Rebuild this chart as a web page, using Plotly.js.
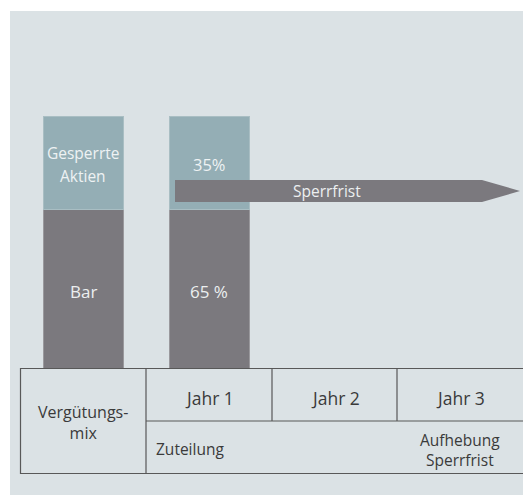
<!DOCTYPE html>
<html>
<head>
<meta charset="utf-8">
<script src="https://cdn.plot.ly/plotly-3.0.1.min.js"></script>
<style>html,body{margin:0;padding:0;background:#fff;}#chart{width:523px;height:495px;}</style>
</head>
<body>
<div id="chart"></div>
<script>
// Data
const barPositions = [83, 209];
const cashShare = [63, 63];
const lockedShare = [37, 37];
const cashLabels = ["Bar", "65 %"];
const lockedLabels = ["Gesperrte<br>Aktien", "35%"];
const yearLabels = ["Jahr 1", "Jahr 2", "Jahr 3"];
const arrowLabel = "Sperrfrist";

const FONT = "Open Sans, Noto Sans, sans-serif";
const GRAY = "#7b797e";
const TEAL = "#94aeb5";
const BG = "#dbe2e5";
const LINE = "#585858";
const TXT = "#3a3a3a";

// y axis: value 0 at pixel 368, 100 at pixel 116
const pxPerUnit = (368 - 116) / 100;
const yTop = 368 / pxPerUnit;
const yBot = -(495 - 368) / pxPerUnit;

const traces = [
  {type: "bar", x: barPositions, y: cashShare, width: 80, name: "Bar",
   marker: {color: GRAY, line: {color: "#9a999d", width: 1}}, hoverinfo: "none"},
  {type: "bar", x: barPositions, y: lockedShare, width: 80, name: "Gesperrte Aktien",
   marker: {color: TEAL, line: {color: "#a9bec3", width: 1}}, hoverinfo: "none"}
];

const shapes = [
  {type: "rect", xref: "x", yref: "y2", x0: 10, x1: 523, y0: 11, y1: 495, fillcolor: BG, line: {width: 0}, layer: "below"},
  // arrow
  {type: "path", xref: "x", yref: "y2", path: "M175,180 L482,180 L520,191 L482,202 L175,202 Z", fillcolor: GRAY, line: {width: 0}, layer: "above"},
  // table
  {type: "line", xref: "x", yref: "y2", x0: 20, x1: 523, y0: 368.5, y1: 368.5, line: {color: LINE, width: 1.2}},
  {type: "line", xref: "x", yref: "y2", x0: 20, x1: 523, y0: 473.5, y1: 473.5, line: {color: LINE, width: 1.2}},
  {type: "line", xref: "x", yref: "y2", x0: 146, x1: 523, y0: 421, y1: 421, line: {color: LINE, width: 1.2}},
  {type: "line", xref: "x", yref: "y2", x0: 20.5, x1: 20.5, y0: 368, y1: 474, line: {color: LINE, width: 1.2}},
  {type: "line", xref: "x", yref: "y2", x0: 146, x1: 146, y0: 368, y1: 474, line: {color: LINE, width: 1.2}},
  {type: "line", xref: "x", yref: "y2", x0: 272, x1: 272, y0: 368, y1: 421, line: {color: LINE, width: 1.2}},
  {type: "line", xref: "x", yref: "y2", x0: 397, x1: 397, y0: 368, y1: 421, line: {color: LINE, width: 1.2}}
];

const annotations = [];
barPositions.forEach((xp, i) => {
  annotations.push({x: xp, y: 291, xref: "x", yref: "y2", text: cashLabels[i], showarrow: false,
    font: {family: FONT, size: 17, color: "#eceff0"}});
});
lockedLabels[0].split("<br>").forEach((line, j) => {
  annotations.push({x: 83, y: 153 + 23 * j, xref: "x", yref: "y2", text: line, showarrow: false,
    font: {family: FONT, size: 15.5, color: "#eef2f3"}});
});
annotations.push({x: 209, y: 164, xref: "x", yref: "y2", text: lockedLabels[1], showarrow: false,
  font: {family: FONT, size: 16.5, color: "#eef2f3"}});
annotations.push({x: 327, y: 191, xref: "x", yref: "y2", text: arrowLabel, showarrow: false,
  font: {family: FONT, size: 15.5, color: "#eceff0"}});
const yearCenters = [209, 335, 460];
yearLabels.forEach((t, i) => annotations.push({x: yearCenters[i], y: 398, xref: "x", yref: "y2", text: t, showarrow: false,
  font: {family: FONT, size: 17.5, color: TXT}}));
annotations.push({x: 83, y: 422, xref: "x", yref: "y2", text: "Vergütungs-<br>mix", showarrow: false,
  font: {family: FONT, size: 16, color: TXT}});
annotations.push({x: 154, y: 449, xref: "x", yref: "y2", xanchor: "left", text: "Zuteilung", showarrow: false,
  font: {family: FONT, size: 15.5, color: TXT}});
annotations.push({x: 460, y: 450, xref: "x", yref: "y2", text: "Aufhebung<br>Sperrfrist", showarrow: false,
  font: {family: FONT, size: 15.5, color: TXT}});

const layout = {
  width: 523, height: 495,
  margin: {l: 0, r: 0, t: 0, b: 0, pad: 0},
  paper_bgcolor: "#ffffff", plot_bgcolor: "#ffffff",
  barmode: "stack", showlegend: false,
  xaxis: {range: [0, 523], visible: false, fixedrange: true},
  yaxis: {range: [yBot, yTop], visible: false, fixedrange: true},
  yaxis2: {range: [495, 0], overlaying: "y", visible: false, fixedrange: true},
  shapes: shapes,
  annotations: annotations
};

Plotly.newPlot("chart", traces, layout, {staticPlot: true, displayModeBar: false});
</script>
</body>
</html>
